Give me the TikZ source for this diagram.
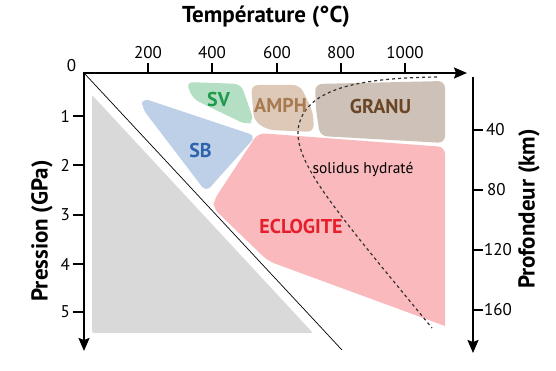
\documentclass[tikz,border=0pt]{standalone}
\usepackage{fontspec}
\setmainfont{PT Sans}
\usetikzlibrary{arrows.meta}

\definecolor{greyfill}{HTML}{D9D9D9}
\definecolor{svfill}{HTML}{B5DFC4}
\definecolor{svtext}{HTML}{1F9A4A}
\definecolor{amphfill}{HTML}{DEC9B9}
\definecolor{amphtext}{HTML}{A77A50}
\definecolor{granufill}{HTML}{CEC2B8}
\definecolor{granutext}{HTML}{6A4526}
\definecolor{sbfill}{HTML}{BED0E7}
\definecolor{sbtext}{HTML}{2E63AE}
\definecolor{eclofill}{HTML}{F9B9BD}
\definecolor{eclotext}{HTML}{E61E2B}

\tikzset{
  axisline/.style={line width=2pt, -{Stealth[length=13pt,width=11pt,inset=2pt]}},
  tickline/.style={line width=2pt},
  ticklabel/.style={font=\fontsize{17}{20}\selectfont, inner sep=0pt},
  axistitle/.style={font=\fontsize{23}{27}\selectfont\bfseries, inner sep=0pt},
  regionlabel/.style={font=\fontsize{20}{24}\selectfont\bfseries, inner sep=0pt},
  region/.style={rounded corners=7pt},
}

\begin{document}
\begin{tikzpicture}[x=1pt,y=-1pt]
\useasboundingbox (0,0) rectangle (556,371);

% Drawing grey zone
\fill [greyfill, rounded corners=2pt] (92,95) -- (92,333) -- (313,333) -- cycle;%

% Drawing region SB
\fill [sbfill, region] (142,98) -- (256,136) -- (206,192) -- (142,108) -- cycle;%

% Drawing region SV
\fill [svfill, region] (186,82) -- (241,84) -- (254,121) -- (247,125) -- (193,99) -- cycle;%

% Drawing region AMPH
\fill [amphfill, region] (251,85) -- (300,85) -- (313,112) -- (314,132) -- (268,130) -- (254,121) -- cycle;%

% Drawing region GRANU
\fill [granufill, region] (315,84) -- (445,81) -- (445,143) -- (320,136) -- (316,110) -- cycle;%

% Drawing region ECLOGITE
\fill [eclofill, region] (258,133) -- (445,147) [sharp corners] -- (445,326) [rounded corners=7pt] -- (268,261) -- (213,208) -- (214,200) -- cycle;%

% Drawing thin line
\draw [line width=0.7pt] (84,73) -- (342,350);%

% Drawing solidus curve
\draw [line width=1.2pt, dash pattern=on 3pt off 3pt, black!80] (437,77) .. controls (360,78) and (303,88) .. (298,130) .. controls (296,165) and (335,210) .. (432,328);%

% Drawing axes
\draw [line width=2pt, {Stealth[length=13pt,width=11pt,inset=2pt]}-{Stealth[length=13pt,width=11pt,inset=2pt]}] (84,351) -- (84,73) -- (467,73);%
\draw [axisline] (473,77) -- (473,353);%

% Marking temperature ticks
\draw [tickline] (148,73) -- (148,63);%
\draw [tickline] (212,73) -- (212,63);%
\draw [tickline] (277,73) -- (277,63);%
\draw [tickline] (341,73) -- (341,63);%
\draw [tickline] (405,73) -- (405,63);%
\node [ticklabel, anchor=base] (t0) at (71.5,72) {0};%
\node [ticklabel, anchor=base] (t200) at (148,59) {200};%
\node [ticklabel, anchor=base] (t400) at (212,59) {400};%
\node [ticklabel, anchor=base] (t600) at (277,59) {600};%
\node [ticklabel, anchor=base] (t800) at (341,59) {800};%
\node [ticklabel, anchor=base] (t1000) at (405,59) {1000};%

% Marking pressure ticks
\draw [tickline] (73,116) -- (84,116);%
\draw [tickline] (73,165) -- (84,165);%
\draw [tickline] (73,215) -- (84,215);%
\draw [tickline] (73,264) -- (84,264);%
\draw [tickline] (73,312) -- (84,312);%
\node [ticklabel, anchor=east] (p1) at (70,116) {1};%
\node [ticklabel, anchor=east] (p2) at (70,165) {2};%
\node [ticklabel, anchor=east] (p3) at (70,215) {3};%
\node [ticklabel, anchor=east] (p4) at (70,264) {4};%
\node [ticklabel, anchor=east] (p5) at (70,312) {5};%

% Marking depth ticks
\draw [tickline] (473,130) -- (483,130);%
\draw [tickline] (473,190) -- (483,190);%
\draw [tickline] (473,250) -- (483,250);%
\draw [tickline] (473,310) -- (483,310);%
\node [ticklabel, anchor=west] (d40) at (486,130) {40};%
\node [ticklabel, anchor=west] (d80) at (487,190) {80};%
\node [ticklabel, anchor=west] (d120) at (484,250) {120};%
\node [ticklabel, anchor=west] (d160) at (484,310) {160};%

% Axis titles
\node [axistitle, anchor=base] (temp) at (266,23) {Température (°C)};%
\node [axistitle, rotate=90] (press) at (42,231) {Pression (GPa)};%
\node [axistitle, rotate=90] (prof) at (529,209) {Profondeur (km)};%

% Region labels
\node [regionlabel, text=svtext] (sv) at (218.5,99.5) {SV};%
\node [regionlabel, text=amphtext] (amph) at (280.5,105.5) {AMPH};%
\node [regionlabel, text=granutext] (granu) at (380.5,106.5) {GRANU};%
\node [regionlabel, text=sbtext] (sb) at (200.5,150.5) {SB};%
\node [regionlabel, text=eclotext] (eclogite) at (301,226.5) {ECLOGITE};%
\node [font=\fontsize{15.5}{18}\selectfont, inner sep=0pt, anchor=base] (solidus) at (363,174) {solidus hydraté};%
\end{tikzpicture}
\end{document}
